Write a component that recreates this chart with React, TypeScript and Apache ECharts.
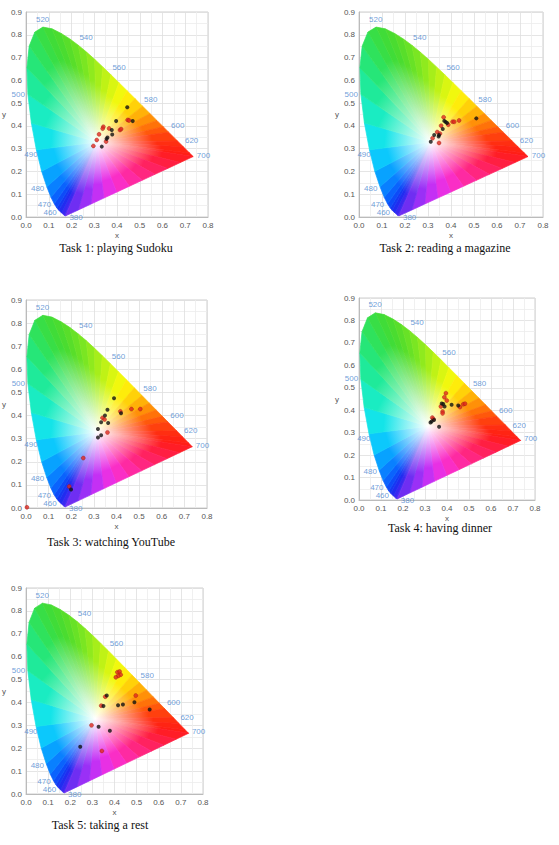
import React, { useEffect, useRef } from 'react';
import * as echarts from 'echarts';

// CIE 1931 spectral locus (380 -> 700 nm), then the line of purples back to 380
const locusX = [
  0.1741, 0.1689, 0.1566, 0.144, 0.1355, 0.1241, 0.1096, 0.0913, 0.0687, 0.0454,
  0.0235, 0.0082, 0.0039, 0.0139, 0.0389, 0.0743, 0.1142, 0.1547, 0.1929, 0.2296,
  0.2658, 0.3016, 0.3373, 0.3731, 0.4087, 0.4441, 0.4788, 0.5125, 0.5448, 0.5752,
  0.6029, 0.627, 0.6658, 0.6915, 0.719, 0.7347,
  0.6786, 0.6226, 0.5665, 0.5105, 0.4544, 0.3983, 0.3423, 0.2862, 0.2302,
];
const locusY = [
  0.005, 0.0069, 0.0177, 0.0297, 0.0399, 0.0578, 0.0868, 0.1327, 0.2007, 0.295,
  0.4127, 0.5384, 0.6548, 0.7502, 0.812, 0.8338, 0.8262, 0.8059, 0.7816, 0.7543,
  0.7243, 0.6923, 0.6589, 0.6245, 0.5896, 0.5547, 0.5202, 0.4866, 0.4544, 0.4242,
  0.3965, 0.3725, 0.334, 0.3083, 0.2809, 0.2653,
  0.2393, 0.2132, 0.1872, 0.1612, 0.1352, 0.1091, 0.0831, 0.0571, 0.031,
];
const locusColors = [
  '#5a2cf0', '#4a28f2', '#2a28f0', '#1830f0', '#1040f5', '#0a55fa', '#0a70ff', '#0890ff', '#08b4ff', '#10dcf8',
  '#18ecd8', '#1cecac', '#22e888', '#2ae468', '#34e050', '#3cdc3c', '#44dc34', '#50dc2c', '#60e028', '#70e424',
  '#84e820', '#9aec1c', '#b2f018', '#ccf414', '#e6f810', '#fcf80c', '#ffe00a', '#ffc208', '#ffa008', '#ff8008',
  '#ff640a', '#ff4c0c', '#ff340f', '#ff2812', '#ff2014', '#ff1c18',
  '#ff1e34', '#ff2050', '#ff2470', '#ff2890', '#fc2cb4', '#f830d8', '#d830f0', '#b030f8', '#8430f4',
];
const whitePoint = [0.3127, 0.329];

const waveNames = ['520', '540', '560', '580', '600', '620', '700', '500', '490', '480', '470', '460', '380'];
const waveX = [0.073, 0.264, 0.409, 0.548, 0.667, 0.728, 0.78, -0.034, 0.022, 0.051, 0.081, 0.106, 0.22];
const waveY = [0.869, 0.789, 0.656, 0.517, 0.4, 0.334, 0.272, 0.54, 0.275, 0.126, 0.054, 0.019, -0.001];

const taskTitles = [
  'Task 1: playing Sudoku',
  'Task 2: reading a magazine',
  'Task 3: watching YouTube',
  'Task 4: having dinner',
  'Task 5: taking a rest',
];

const task1Black = [[0.445, 0.482], [0.396, 0.421], [0.469, 0.421], [0.377, 0.382], [0.379, 0.362], [0.358, 0.349], [0.354, 0.343], [0.333, 0.309]];
const task1Red = [[0.447, 0.426], [0.453, 0.424], [0.34, 0.396], [0.337, 0.388], [0.365, 0.389], [0.413, 0.382], [0.418, 0.386], [0.321, 0.363], [0.311, 0.338], [0.352, 0.331], [0.296, 0.312]];

const task2Black = [[0.51, 0.433], [0.371, 0.422], [0.377, 0.417], [0.383, 0.413], [0.364, 0.386], [0.348, 0.36], [0.346, 0.353], [0.327, 0.36], [0.312, 0.33]];
const task2Red = [[0.435, 0.424], [0.407, 0.418], [0.414, 0.418], [0.368, 0.438], [0.388, 0.405], [0.357, 0.401], [0.34, 0.373], [0.32, 0.346], [0.348, 0.325], [0.352, 0.366]];

const task3Black = [[0.389, 0.475], [0.36, 0.425], [0.42, 0.41], [0.349, 0.4], [0.332, 0.371], [0.363, 0.368], [0.318, 0.342], [0.332, 0.315], [0.318, 0.305], [0.199, 0.08]];
const task3Red = [[0.417, 0.418], [0.466, 0.428], [0.505, 0.428], [0.338, 0.39], [0.347, 0.383], [0.36, 0.327], [0.253, 0.216], [0.191, 0.093], [0.004, 0.003]];

const task4Black = [[0.376, 0.43], [0.383, 0.428], [0.389, 0.417], [0.421, 0.424], [0.451, 0.421], [0.341, 0.356], [0.33, 0.35], [0.325, 0.345], [0.364, 0.326]];
const task4Red = [[0.395, 0.476], [0.388, 0.458], [0.399, 0.443], [0.372, 0.417], [0.459, 0.414], [0.474, 0.427], [0.482, 0.429], [0.38, 0.394], [0.38, 0.386], [0.333, 0.367], [0.338, 0.361]];

const task5Black = [[0.365, 0.43], [0.35, 0.384], [0.416, 0.388], [0.438, 0.391], [0.49, 0.401], [0.559, 0.369], [0.328, 0.294], [0.379, 0.276], [0.245, 0.206]];
const task5Red = [[0.413, 0.532], [0.423, 0.535], [0.428, 0.521], [0.417, 0.516], [0.406, 0.51], [0.496, 0.43], [0.358, 0.425], [0.34, 0.386], [0.296, 0.3], [0.343, 0.188]];

const blackSets = [task1Black, task2Black, task3Black, task4Black, task5Black];
const redSets = [task1Red, task2Red, task3Red, task4Red, task5Red];

// plot boxes and title anchors, in page pixels
const panels = [
  { left: 26, top: 12, width: 182, height: 205, titleX: 116, titleY: 248 },
  { left: 359, top: 12, width: 184, height: 205, titleX: 445, titleY: 248 },
  { left: 18, top: 300, width: 189, height: 208, titleX: 111, titleY: 542 },
  { left: 359, top: 298, width: 176, height: 202, titleX: 440, titleY: 528 },
  { left: 21, top: 588, width: 182, height: 206, titleX: 100, titleY: 825 },
];

const AXIS_FONT = "'Liberation Sans', Arial, sans-serif";

const renderFan = (_params: any, api: any) => {
  const i = api.value(0);
  const j = (i + 1) % locusX.length;
  const c = api.coord(whitePoint);
  const a = api.coord([locusX[i], locusY[i]]);
  const b = api.coord([locusX[j], locusY[j]]);
  const mx = (a[0] + b[0]) / 2;
  const my = (a[1] + b[1]) / 2;
  const edge = echarts.color.lerp(0.5, [locusColors[i], locusColors[j]]);
  const fill = new echarts.graphic.LinearGradient(c[0], c[1], mx, my, [
    { offset: 0, color: '#ffffff' },
    { offset: 0.72, color: edge },
    { offset: 1, color: edge },
  ], true);
  return {
    type: 'polygon',
    shape: { points: [c, a, b] },
    style: { fill, stroke: fill, lineWidth: 0.7 },
  };
};

const App: React.FC = () => {
  const chartRef = useRef<HTMLDivElement>(null);

  useEffect(() => {
    if (!chartRef.current) return;
    const chart = echarts.init(chartRef.current, undefined, { renderer: 'svg' });

    const axisCommon = {
      type: 'value' as const,
      interval: 0.1,
      nameLocation: 'middle' as const,
      nameTextStyle: { fontSize: 8, color: '#555', fontFamily: AXIS_FONT },
      axisLine: { show: true, lineStyle: { color: '#bbb' } },
      axisTick: { show: false },
      axisLabel: {
        fontSize: 8,
        color: '#555',
        fontFamily: AXIS_FONT,
        margin: 4,
        formatter: (v: number) => v.toFixed(1),
      },
      splitLine: { show: true, lineStyle: { color: '#dedede', width: 0.8 } },
      minorTick: { show: false, splitNumber: 2 },
      minorSplitLine: { show: true, lineStyle: { color: '#ececec', width: 0.8 } },
    };

    const series: any[] = [];
    panels.forEach((_, k) => {
      series.push({
        type: 'custom',
        xAxisIndex: k,
        yAxisIndex: k,
        renderItem: renderFan,
        data: locusX.map((_x, i) => [i]),
        z: 1,
        silent: true,
      });
      series.push({
        type: 'scatter',
        xAxisIndex: k,
        yAxisIndex: k,
        clip: false,
        symbolSize: 1,
        itemStyle: { color: 'rgba(0,0,0,0)' },
        label: {
          show: true,
          position: 'inside',
          formatter: '{b}',
          fontSize: 8,
          color: '#4a86cf',
          fontFamily: AXIS_FONT,
        },
        data: waveNames.map((n, i) => ({ name: n, value: [waveX[i], waveY[i]] })),
        z: 3,
        silent: true,
      });
      series.push({
        type: 'scatter',
        xAxisIndex: k,
        yAxisIndex: k,
        clip: false,
        symbolSize: 4,
        itemStyle: { color: '#e0281e', borderColor: '#9a1a14', borderWidth: 0.5 },
        data: redSets[k],
        z: 4,
      });
      series.push({
        type: 'scatter',
        xAxisIndex: k,
        yAxisIndex: k,
        clip: false,
        symbolSize: 4,
        itemStyle: { color: '#111111' },
        data: blackSets[k],
        z: 5,
      });
    });

    const option: any = {
      animation: false,
      grid: panels.map((p) => ({
        left: p.left,
        top: p.top,
        width: p.width,
        height: p.height,
        show: true,
        borderColor: '#cfcfcf',
        borderWidth: 1,
        backgroundColor: '#ffffff',
      })),
      xAxis: panels.map((_, k) => ({
        ...axisCommon,
        gridIndex: k,
        min: 0,
        max: 0.8,
        name: 'x',
        nameGap: 14,
      })),
      yAxis: panels.map((_, k) => ({
        ...axisCommon,
        gridIndex: k,
        min: 0,
        max: 0.9,
        name: 'y',
        nameGap: 14,
        nameRotate: 0,
      })),
      graphic: panels.map((p, k) => ({
        type: 'text',
        x: p.titleX,
        y: p.titleY,
        style: {
          text: taskTitles[k],
          fontSize: 12,
          fontFamily: "'Liberation Serif', 'Times New Roman', serif",
          fill: '#111',
          align: 'center',
          verticalAlign: 'middle',
          textAlign: 'center',
          textVerticalAlign: 'middle',
        },
      })),
      series,
    };

    chart.setOption(option);
    return () => {
      chart.dispose();
    };
  }, []);

  return (
    <div
      ref={chartRef}
      style={{ position: 'absolute', left: 0, top: 0, width: 559, height: 845, background: '#fff' }}
    />
  );
};

export default App;
